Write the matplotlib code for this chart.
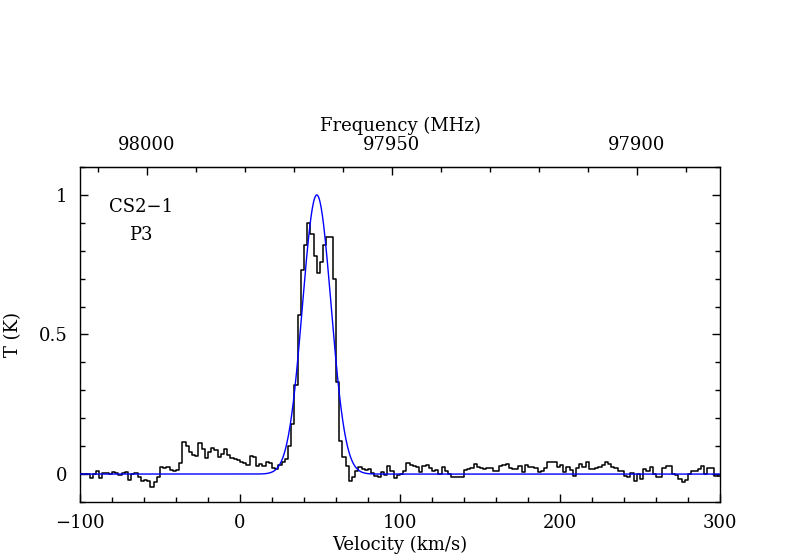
import numpy as np
import matplotlib.pyplot as plt
from matplotlib.ticker import MultipleLocator, FixedLocator

# Spectrum channels (2 km/s wide, centres from -99 to 299 km/s)
chan_start = -99
chan_width = 2
temp_left = [0.0, 0.0, 0.0, -0.015, 0.002, 0.012, -0.015, 0.005, 0.005, 0.0,
             0.008, 0.005, -0.002, 0.003, 0.008, -0.022, 0.0, 0.005, -0.012, -0.026,
             -0.022, -0.025, -0.045, -0.03, -0.01, 0.027, 0.022, 0.025, 0.013, 0.01,
             0.015]
temp_wing = [0.04, 0.115, 0.10, 0.08, 0.07, 0.065, 0.11, 0.09, 0.056, 0.08,
             0.095, 0.085, 0.062, 0.073, 0.09, 0.07, 0.056, 0.055, 0.05, 0.042,
             0.039, 0.034, 0.065, 0.06, 0.03, 0.035, 0.03, 0.045, 0.04]
temp_line = [0.02, 0.018, 0.032, 0.045, 0.055, 0.10, 0.18, 0.32, 0.57, 0.73,
             0.82, 0.90, 0.86, 0.78, 0.72, 0.76, 0.82, 0.85, 0.85, 0.70, 0.33]
temp_mid = [0.12, 0.06, 0.03, -0.024, -0.01, 0.012, 0.024, 0.019, 0.016, 0.017,
            0.004, -0.007, -0.01, 0.007, -0.005, 0.028, 0.01, -0.015, -0.002, 0.002,
            0.01, 0.04, 0.032, 0.03, 0.027, 0.008, 0.03, 0.034, 0.022, 0.012,
            0.015, 0.002, 0.024, 0.01, 0.0]
temp_right = [-0.01, -0.012, -0.012, -0.01, 0.015, 0.018, 0.02, 0.036, 0.024, 0.022,
              0.018, 0.02, 0.02, 0.012, 0.012, 0.03, 0.034, 0.036, 0.02, 0.018,
              0.018, 0.03, 0.006, 0.032, 0.024, 0.024, 0.02, 0.008, 0.012, 0.02,
              0.042, 0.044, 0.044, 0.024, 0.032, 0.006, 0.024, 0.015, -0.006, 0.02,
              0.036, 0.024, 0.042, 0.018, 0.018, 0.02, 0.025, 0.032, 0.042, 0.035,
              0.024, 0.02, 0.012, 0.01, -0.008, -0.012, 0.005, -0.024, 0.0, -0.018,
              0.018, 0.01, 0.024, 0.0, -0.012, -0.01, 0.02, 0.03, 0.03, 0.0,
              -0.005, -0.018, -0.03, -0.02, 0.0, 0.012, 0.012, 0.018, 0.03, 0.0,
              0.02, 0.02, -0.006, -0.006]
temp = np.array(temp_left + temp_wing + temp_line + temp_mid + temp_right)
vel = chan_start + chan_width * np.arange(len(temp))

# Gaussian fit parameters
fit_amp = 1.0
fit_center = 48.0
fit_fwhm = 21.0

# Frequency axis: 98000 MHz at -58.3 km/s, 3.0625 km/s per MHz
f_ref = 98000.0
v_ref = -58.3
kms_per_mhz = 3.0625


def vel2freq(v):
    return f_ref - (np.asarray(v) - v_ref) / kms_per_mhz


def freq2vel(f):
    return v_ref + (f_ref - np.asarray(f)) * kms_per_mhz


plt.rcParams['font.family'] = 'DejaVu Serif'
plt.rcParams['font.size'] = 13

fig = plt.figure(figsize=(8, 5.6), dpi=100)
ax = fig.add_axes([0.1, 0.1036, 0.8, 0.5982])

ax.step(vel, temp, where='mid', color='black', lw=1.1)
# extend the step to the channel edges
ax.plot([vel[0] - 1, vel[0]], [temp[0], temp[0]], color='black', lw=1.1)
ax.plot([vel[-1], vel[-1] + 1], [temp[-1], temp[-1]], color='black', lw=1.1)

sigma = fit_fwhm / 2.3548
v_fit = np.linspace(-100, 300, 1601)
ax.plot(v_fit, fit_amp * np.exp(-0.5 * ((v_fit - fit_center) / sigma) ** 2),
        color='#0000ff', lw=1.0, zorder=3)

ax.set_xlim(-100, 300)
ax.set_ylim(-0.1, 1.1)
ax.xaxis.set_major_locator(MultipleLocator(100))
ax.xaxis.set_minor_locator(MultipleLocator(20))
ax.yaxis.set_major_locator(FixedLocator([0, 0.5, 1]))
ax.yaxis.set_minor_locator(MultipleLocator(0.1))
ax.set_yticklabels(['0', '0.5', '1'])
ax.tick_params(which='both', direction='in', top=False, right=True, width=1)
ax.tick_params(which='major', length=6, pad=9)
ax.tick_params(which='minor', length=3.5)
for s in ax.spines.values():
    s.set_linewidth(1.0)

ax.set_xlabel('Velocity (km/s)', labelpad=2)
ax.set_ylabel('T (K)', labelpad=12)

top = ax.secondary_xaxis('top', functions=(vel2freq, freq2vel))
top.xaxis.set_major_locator(FixedLocator([98000, 97950, 97900]))
top.xaxis.set_minor_locator(MultipleLocator(10))
top.xaxis.set_major_formatter(plt.FuncFormatter(lambda f, p: '%d' % round(f)))
top.tick_params(which='both', direction='in', width=1)
top.tick_params(which='major', length=6, pad=9)
top.tick_params(which='minor', length=3.5)
top.set_xlabel('Frequency (MHz)', labelpad=4)

ax.text(-62, 0.955, 'CS2\u22121', ha='center', va='center')
ax.text(-62, 0.855, 'P3', ha='center', va='center')

fig.savefig('out.png', dpi=100)
